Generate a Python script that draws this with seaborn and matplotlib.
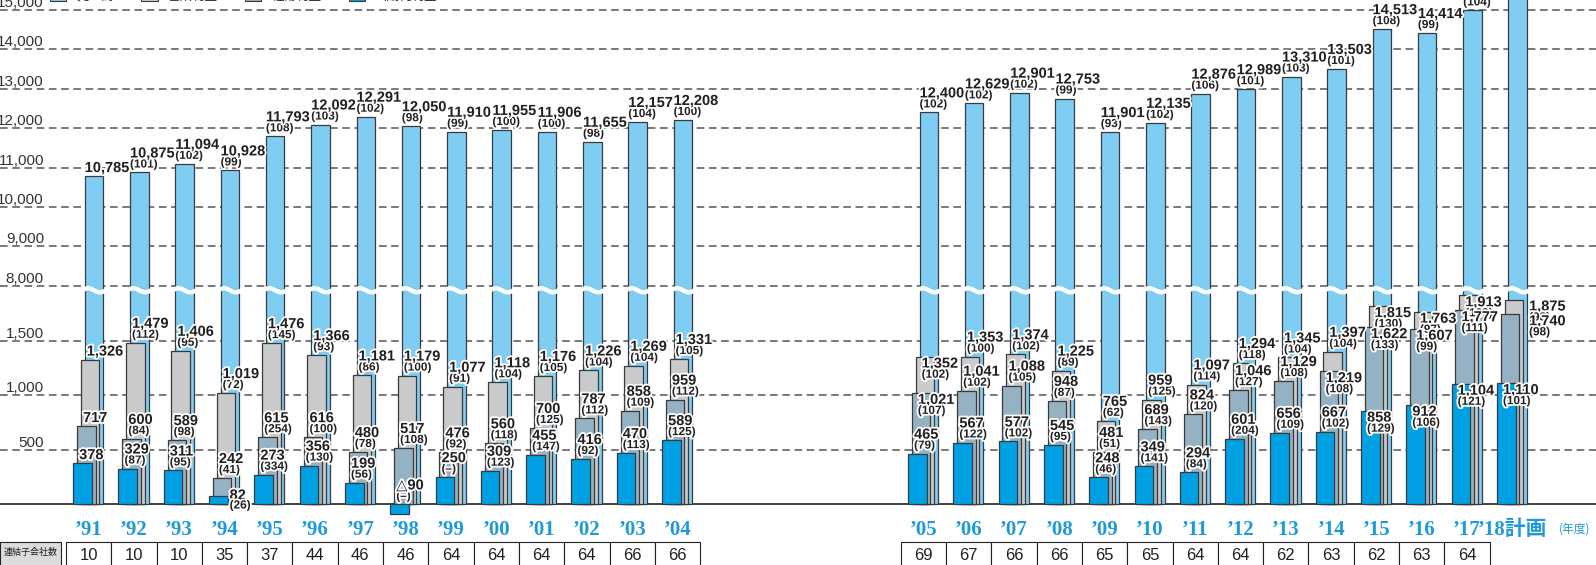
import numpy as np
import pandas as pd
import matplotlib
matplotlib.use('Agg')
import matplotlib.pyplot as plt
import matplotlib.patheffects as pe
from matplotlib.patches import Patch, Rectangle
from matplotlib import transforms
import seaborn as sns

# --- data -----------------------------------------------------------------
years = ['’91', '’92', '’93', '’94', '’95', '’96', '’97', '’98', '’99', '’00',
         '’01', '’02', '’03', '’04', '’05', '’06', '’07', '’08', '’09', '’10',
         '’11', '’12', '’13', '’14', '’15', '’16', '’17', '’18計画']

sales = [10785, 10875, 11094, 10928, 11793, 12092, 12291, 12050, 11910, 11955,
         11906, 11655, 12157, 12208, 12400, 12629, 12901, 12753, 11901, 12135,
         12876, 12989, 13310, 13503, 14513, 14414, 14990, 15600]
sales_pct = ['', '101', '102', '99', '108', '103', '102', '98', '99', '100',
             '100', '98', '104', '100', '102', '102', '102', '99', '93', '102',
             '106', '101', '103', '101', '108', '99', '104', '']

op_income = [1326, 1479, 1406, 1019, 1476, 1366, 1181, 1179, 1077, 1118,
             1176, 1226, 1269, 1331, 1352, 1353, 1374, 1225, 765, 959,
             1097, 1294, 1345, 1397, 1815, 1763, 1913, 1875]
op_pct = ['', '112', '95', '72', '145', '93', '86', '100', '91', '104',
          '105', '104', '104', '105', '102', '100', '102', '89', '62', '125',
          '114', '118', '104', '104', '130', '97', '109', '98']

ord_income = [717, 600, 589, 242, 615, 616, 480, 517, 476, 560,
              700, 787, 858, 959, 1021, 1041, 1088, 948, 481, 689,
              824, 1046, 1129, 1219, 1622, 1607, 1777, 1740]
ord_pct = ['', '84', '98', '41', '254', '100', '78', '108', '92', '118',
           '125', '112', '109', '112', '107', '102', '105', '87', '51', '143',
           '120', '127', '108', '108', '133', '99', '111', '98']

net_income = [378, 329, 311, 82, 273, 356, 199, -90, 250, 309,
              455, 416, 470, 589, 465, 567, 577, 545, 248, 349,
              294, 601, 656, 667, 858, 912, 1104, 1110]
net_pct = ['', '87', '95', '26', '334', '130', '56', '–', '–', '123',
           '147', '92', '113', '125', '79', '122', '102', '95', '46', '141',
           '84', '204', '109', '102', '129', '106', '121', '101']

subsidiaries = [10, 10, 10, 35, 37, 44, 46, 46, 64, 64, 64, 64, 66, 66,
                69, 67, 66, 66, 65, 65, 64, 64, 62, 63, 62, 63, 64]

legend_labels = ['売上高', '営業利益', '経常利益', '当期純利益']
yticks = [500, 1000, 1500, 8000, 9000, 10000, 11000, 12000, 13000, 14000, 15000]

# --- layout / style -------------------------------------------------------
W, H = 1596, 565
PX = 0.72                      # points per pixel at dpi 100
GAP = 4.43                     # extra slots between the two periods
slots = np.array([i if i < 14 else i + GAP for i in range(len(years))])
BW = 0.41

C_SALES, C_OP, C_ORD, C_NET = '#80cdf3', '#c9cacb', '#95b1c4', '#00a0e5'
EDGE = '#3a3a3a'
TXT = '#231f20'
YEAR_BLUE = '#1e9ad8'

# broken axis: 0-2000 linear, 8000+ compressed
K = 0.3605
kv = [-1e5, 2000, 8000, 1e5]
kp = [-1e5, 2000, 2001, 2001 + (1e5 - 8000) * K]


def fwd(v):
    return np.interp(np.asarray(v, dtype=float), kv, kp)


def inv(p):
    return np.interp(np.asarray(p, dtype=float), kp, kv)


sns.set_theme(style='white')
plt.rcParams['font.family'] = ['Liberation Sans', 'DejaVu Sans']

fig = plt.figure(figsize=(W / 100, H / 100), dpi=100)
ax = fig.add_axes([0, 45 / H, 1, 520 / H])
ax.set_yscale('function', functions=(fwd, inv))

series = [
    ('sales', sales, sales_pct, 0.0, C_SALES),
    ('op', op_income, op_pct, -0.088, C_OP),
    ('ord', ord_income, ord_pct, -0.17, C_ORD),
    ('net', net_income, net_pct, -0.255, C_NET),
]

for name, vals, _, off, col in series:
    df = pd.DataFrame({'x': slots + off, 'v': vals})
    sns.barplot(data=df, x='x', y='v', native_scale=True, width=BW,
                color=col, saturation=1, edgecolor=EDGE, linewidth=0.9,
                errorbar=None, ax=ax)

ax.set_xlim(-94 / 45.3, (W - 94) / 45.3)
ax.set_ylim(-142, 15253)
ax.set_xlabel('')
ax.set_ylabel('')
ax.set_xticks([])
ax.set_yticks(yticks)
ax.tick_params(length=0, labelleft=False)
for s in ax.spines.values():
    s.set_visible(False)
ax.set_axisbelow(True)
ax.yaxis.grid(True, color='#555555', lw=1.1, dashes=(5, 3))
ax.axhline(0, color='#333333', lw=1.3, zorder=0.5)

for t in yticks:
    ax.annotate(f'{t:,}', xy=(44 / W, t), xycoords=('axes fraction', 'data'),
                xytext=(0, 3 * PX), textcoords='offset points',
                ha='right', va='baseline', fontsize=11, color='#333333',
                family=['Liberation Sans Narrow', 'Liberation Sans'])

# white wavy break across the sales bars
blend_ax = transforms.blended_transform_factory(ax.transData, ax.transAxes)
y8 = ax.transAxes.inverted().transform(ax.transData.transform((0, 8000)))[1]
yc, amp = y8 - 4.5 / 520, 2.0 / 520
for s in slots:
    xs = np.linspace(s - 0.26, s + 0.26, 40)
    ys = yc + amp * np.sin(2 * np.pi * (xs - xs[0]) / (xs[-1] - xs[0]))
    ax.plot(xs, ys, color='white', lw=3.2, transform=blend_ax, zorder=3,
            solid_capstyle='butt')

# --- value labels ---------------------------------------------------------
inside = {'op': [14, 24, 25, 26], 'ord': [14, 23, 24, 25, 26],
          'net': [24, 25, 26, 27]}
right = {'op': [27], 'ord': [27]}
side = {'net': [3]}
halo = [pe.withStroke(linewidth=2.6, foreground='white')]


def put(x, y, dx, dy, text, size):
    ax.annotate(text, xy=(x, y), xytext=(dx * PX, dy * PX),
                textcoords='offset points', ha='left', va='baseline',
                fontsize=size, weight='bold', color=TXT, zorder=6,
                path_effects=halo, annotation_clip=False,
                family=['Liberation Sans', 'DejaVu Sans'])


for name, vals, pcts, off, _ in series:
    for i, (v, p) in enumerate(zip(vals, pcts)):
        left = slots[i] + off - BW / 2
        top = max(v, 0)
        txt = f'{v:,}' if v >= 0 else f'△{abs(v)}'
        ptxt = f'({p})' if p else ''
        dx = 0 if name == 'sales' else 6
        if i in right.get(name, []):
            x0 = slots[i] + BW / 2
            put(x0, top, 2, -11, txt, 10.5)
            put(x0, top, 2, -21, ptxt, 8.5)
        elif i in side.get(name, []):
            x0 = left + BW
            put(x0, top, 2, -4, txt, 10.5)
            put(x0, top, 2, -13, ptxt, 8.5)
        elif i in inside.get(name, []):
            put(left, top, dx, -11, txt, 10.5)
            put(left, top, dx, -21, ptxt, 8.5)
        else:
            if ptxt:
                put(left, top, dx, 5, ptxt, 8.5)
                put(left, top, dx, 15, txt, 10.5)
            else:
                put(left, top, dx, 4, txt, 10.5)

# --- year labels and subsidiary table ---------------------------------------
blend_fig = transforms.blended_transform_factory(ax.transData, fig.transFigure)
for s, y in zip(slots, years):
    ax.text(s - 0.12, (H - 535) / H, y, transform=blend_fig, ha='center',
            va='baseline', fontsize=15, weight='bold', color=YEAR_BLUE,
            family=['Liberation Serif', 'Noto Sans CJK JP'], clip_on=False)
fig.text(1575 / W, (H - 533) / H, '(年度)', ha='center', va='baseline',
         fontsize=8.5, color=YEAR_BLUE, family=['Noto Sans CJK JP'])

t_top, t_bot = (H - 542) / H, (H - 567) / H
cell_lo = -0.73
label_x0 = -94 / 45.3
ax.add_patch(Rectangle((label_x0, t_bot), cell_lo - label_x0, t_top - t_bot,
                       transform=blend_fig, facecolor='#dcdcdc',
                       edgecolor='#222222', lw=0.8, clip_on=False))
ax.text((label_x0 + cell_lo) / 2, (t_top + t_bot) / 2 + 0.004, '連結子会社数',
        transform=blend_fig, ha='center', va='center', fontsize=6.5,
        color=TXT, family=['Noto Sans CJK JP'], clip_on=False)
for s, n in zip(slots, subsidiaries):
    x0 = s - 0.62
    ax.add_patch(Rectangle((x0, t_bot), 1, t_top - t_bot, transform=blend_fig,
                           facecolor='white', edgecolor='#222222', lw=0.8,
                           clip_on=False))
    ax.text(x0 + 0.5, (H - 560) / H, str(n), transform=blend_fig, ha='center',
            va='baseline', fontsize=12, color=TXT, clip_on=False,
            family=['Liberation Sans Narrow', 'Liberation Sans'])

# legend, mostly cut off by the top edge as in the source
handles = [Patch(facecolor=c, edgecolor=EDGE, lw=0.8)
           for c in (C_SALES, C_OP, C_ORD, C_NET)]
fig.legend(handles, legend_labels, loc='lower left',
           bbox_to_anchor=(50 / W, 1 - 3 / H), ncol=4, frameon=False,
           borderpad=0, borderaxespad=0, handlelength=1.3, handleheight=0.9,
           columnspacing=2.2, prop={'family': 'Noto Sans CJK JP', 'size': 9})

fig.savefig('out.png', dpi=100)
